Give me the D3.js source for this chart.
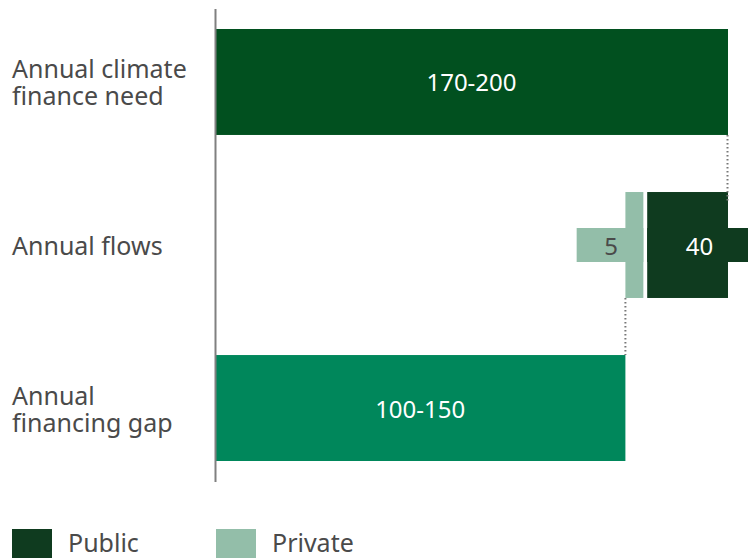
<!DOCTYPE html>
<html>
<head>
<meta charset="utf-8">
<script src="https://cdn.jsdelivr.net/npm/d3@7"></script>
<style>
  html, body { margin: 0; padding: 0; background: #fff; overflow: hidden; }
  svg { display: block; }
  text { font-family: "Noto Sans", "Open Sans", sans-serif; }
</style>
</head>
<body>
<script>
// ---- data ----
const categories = ["need", "flows", "gap"];
const categoryLines = [["Annual climate", "finance need"], ["Annual flows"], ["Annual", "financing gap"]];
const needRange = [0, 200];
const gapRange = [0, 160];
const needLabel = "170-200";
const gapLabel = "100-150";
const privateCore = [160, 167];
const privateWide = [141, 167];
const publicCore = [168.5, 200];
const publicWide = [168.5, 208];
const privateLabel = "5";
const publicLabel = "40";
const legendNames = ["Public", "Private"];

// ---- styles ----
const W = 748, H = 558;
const colNeed = "#01501f", colGap = "#00875b", colPublic = "#0f3b1f", colPrivate = "#93bea9";
const textCol = "#4a4a4a";
const fs = 25;

const svg = d3.select("body").append("svg").attr("width", W).attr("height", H);

const x = d3.scaleLinear().domain([0, 200]).range([215, 728]);
const y = d3.scaleBand().domain(categories).range([29, 461]).paddingInner(0.35).paddingOuter(0);
const bw = y.bandwidth();
const wideH = 34;

// need bar
svg.append("rect").attr("x", x(needRange[0])).attr("y", y("need"))
  .attr("width", x(needRange[1]) - x(needRange[0])).attr("height", bw).attr("fill", colNeed);
// gap bar
svg.append("rect").attr("x", x(gapRange[0])).attr("y", y("gap"))
  .attr("width", x(gapRange[1]) - x(gapRange[0])).attr("height", bw).attr("fill", colGap);

// flows: private
const fy = y("flows"), fc = fy + bw / 2;
svg.append("rect").attr("x", x(privateCore[0])).attr("y", fy)
  .attr("width", x(privateCore[1]) - x(privateCore[0])).attr("height", bw).attr("fill", colPrivate);
svg.append("rect").attr("x", x(privateWide[0])).attr("y", fc - wideH / 2)
  .attr("width", x(privateWide[1]) - x(privateWide[0])).attr("height", wideH).attr("fill", colPrivate);
// flows: public
svg.append("rect").attr("x", x(publicCore[0])).attr("y", fy)
  .attr("width", x(publicCore[1]) - x(publicCore[0])).attr("height", bw).attr("fill", colPublic);
svg.append("rect").attr("x", x(publicWide[0])).attr("y", fc - wideH / 2)
  .attr("width", x(publicWide[1]) - x(publicWide[0])).attr("height", wideH).attr("fill", colPublic);

// dotted connectors
svg.append("line").attr("x1", x(needRange[1]) - 0.5).attr("x2", x(needRange[1]) - 0.5)
  .attr("y1", y("need") + bw).attr("y2", fy + 10)
  .attr("stroke", "#777").attr("stroke-width", 2).attr("stroke-dasharray", "1.5,2.5");
svg.append("line").attr("x1", x(gapRange[1])).attr("x2", x(gapRange[1]))
  .attr("y1", fy + bw).attr("y2", y("gap"))
  .attr("stroke", "#777").attr("stroke-width", 2).attr("stroke-dasharray", "1.5,2.5");

// axis line
svg.append("line").attr("x1", x(0) + 0.5).attr("x2", x(0) + 0.5).attr("y1", 9).attr("y2", 482)
  .attr("stroke", "#808080").attr("stroke-width", 2);

// bar labels
function barText(t, cx, cy, col) {
  svg.append("text").attr("x", cx).attr("y", cy).attr("text-anchor", "middle")
    .attr("dominant-baseline", "central").attr("font-size", 24).attr("fill", col).text(t);
}
barText(needLabel, (x(needRange[0]) + x(needRange[1])) / 2, y("need") + bw / 2, "#fff");
barText(gapLabel, (x(gapRange[0]) + x(gapRange[1])) / 2, y("gap") + bw / 2, "#fff");
barText(privateLabel, (x(privateWide[0]) + x(privateWide[1])) / 2 + 1, fc, textCol);
barText(publicLabel, (x(publicWide[0]) + Math.min(W, x(publicWide[1]))) / 2 + 2, fc, "#fff");

// category labels
categories.forEach((c, i) => {
  const lines = categoryLines[i];
  const cy = y(c) + bw / 2;
  const lh = 27;
  lines.forEach((ln, j) => {
    svg.append("text").attr("x", 12)
      .attr("y", cy + (j - (lines.length - 1) / 2) * lh)
      .attr("dominant-baseline", "central")
      .attr("font-size", fs).attr("fill", textCol).text(ln);
  });
});

// legend
const legCols = [colPublic, colPrivate];
const legX = [12, 216];
legendNames.forEach((n, i) => {
  svg.append("rect").attr("x", legX[i]).attr("y", 529).attr("width", 40).attr("height", 40).attr("fill", legCols[i]);
  svg.append("text").attr("x", legX[i] + 56).attr("y", 552).attr("font-size", fs).attr("fill", textCol).text(n);
});
</script>
</body>
</html>
